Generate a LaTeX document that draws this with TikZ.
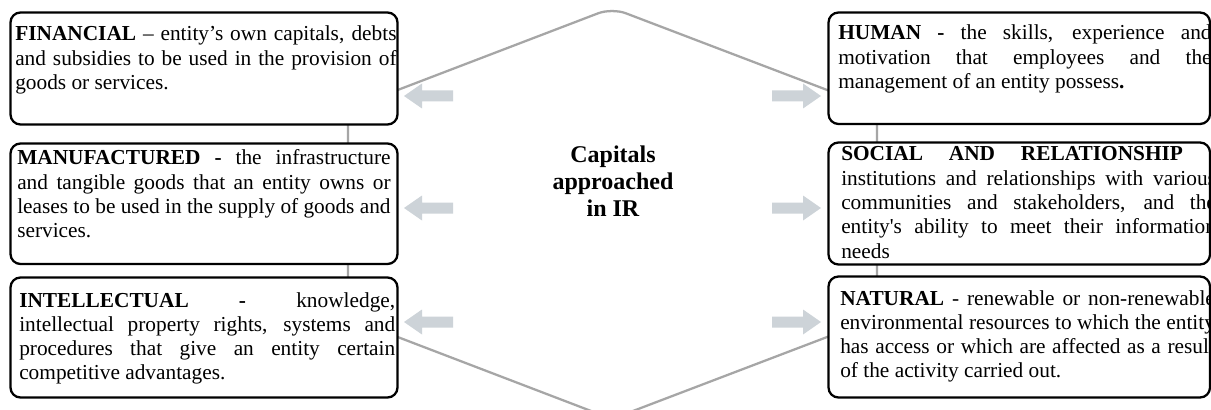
\documentclass[tikz,border=0pt]{standalone}
\usepackage{fontspec}
\setmainfont{Liberation Serif}[Ligatures=TeXOff]
\usetikzlibrary{fit}
\definecolor{hexgray}{HTML}{A6A6A6}
\definecolor{arrgray}{HTML}{CDD3D8}
\newcommand\jl[1]{\makebox[\linewidth][s]{#1}\\}
\newcommand\leftarr[2]{\fill[arrgray] (#1,#2) -- ++(18,-12.5) -- ++(0,7) -- ++(31,0) -- ++(0,11) -- ++(-31,0) -- ++(0,7) -- cycle;}
\newcommand\rightarr[2]{\fill[arrgray] (#1,#2) -- ++(-18,-12.5) -- ++(0,7) -- ++(-31,0) -- ++(0,11) -- ++(31,0) -- ++(0,7) -- cycle;}
\tikzset{
  capbox/.style={draw=black, line width=1.7pt, rounded corners=7.5pt, fill=white, inner sep=0pt},
  captext/.style={anchor=base west, inner sep=0pt, font=\fontsize{16pt}{18.2pt}\selectfont},
  hexline/.style={draw=hexgray, line width=1.7pt, rounded corners=11pt}
}
\begin{document}
\begin{tikzpicture}[x=0.75pt,y=-0.75pt]
\clip (0,0) rectangle (1211,410);
\fill[white] (0,0) rectangle (1211,410);
% hexagon
\draw[hexline] (612,8) -- (877,109) -- (877,318) -- (612,419) -- (348,318) -- (348,109) -- cycle;
% arrows
\leftarr{404}{96}
\leftarr{404}{208}
\leftarr{404}{322}
\rightarr{821}{96}
\rightarr{821}{208}
\rightarr{821}{322}
% left boxes
\node[capbox, fit={(10.5,12.5) (397.5,124.5)}] (fin) {};
\node[capbox, fit={(10.5,143.5) (397.5,264)}] (man) {};
\node[capbox, fit={(10.5,277.5) (397.5,397.5)}] (int) {};
% right boxes
\node[capbox, fit={(828.5,12.5) (1210,124)}] (hum) {};
\node[capbox, fit={(828.5,142.5) (1210,264.5)}] (soc) {};
\node[capbox, fit={(828.5,276.5) (1210,397.5)}] (nat) {};
% texts
\node[captext] (tfin) at (15,41) {\parbox[t]{286pt}{%
\jl{\textbf{FINANCIAL} – entity’s own capitals, debts}
\jl{and subsidies to be used in the provision of}
goods or services.}};
\node[captext] (tman) at (17,165) {\parbox[t]{280pt}{%
\jl{\textbf{MANUFACTURED -} the infrastructure}
\jl{and tangible goods that an entity owns or}
\jl{leases to be used in the supply of goods and}
services.}};
\node[captext] (tint) at (19,307) {\parbox[t]{282pt}{%
\jl{\textbf{INTELLECTUAL -} knowledge,}
\jl{intellectual property rights, systems and}
\jl{procedures that give an entity certain}
competitive advantages.}};
\node[captext] (thum) at (838,40) {\parbox[t]{280pt}{%
\jl{\textbf{HUMAN -} the skills, experience and}
\jl{motivation that employees and the}
management of an entity possess\textbf{.}}};
\node[captext] (tsoc) at (841,161) {\parbox[t]{281pt}{%
\jl{\textbf{SOCIAL AND RELATIONSHIP -}}
\jl{institutions and relationships with various}
\jl{communities and stakeholders, and the}
\jl{entity's ability to meet their information}
needs}};
\node[captext] (tnat) at (840,305) {\parbox[t]{281pt}{%
\jl{\textbf{NATURAL} - renewable or non-renewable}
\jl{environmental resources to which the entity}
\jl{has access or which are affected as a result}
of the activity carried out.}};
% title
\node[anchor=base, inner sep=0pt] (title) at (613,162) {\parbox[t]{150pt}{\centering\fontsize{18pt}{20.25pt}\selectfont\bfseries Capitals\\approached\\in IR}};
\end{tikzpicture}
\end{document}
